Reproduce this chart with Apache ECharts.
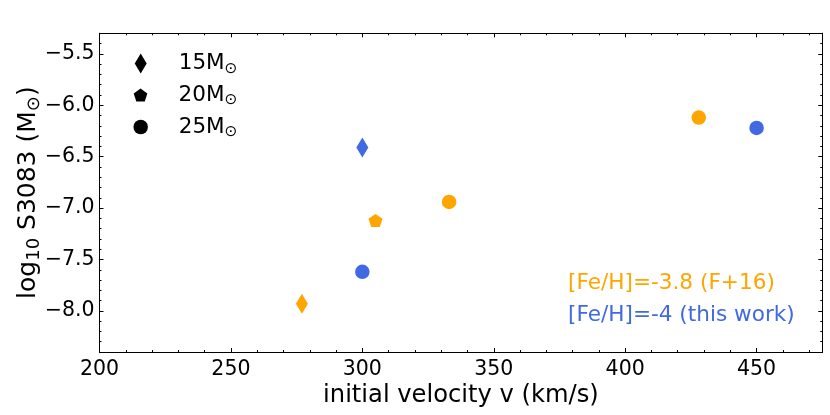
<!DOCTYPE html>
<html><head><meta charset="utf-8">
<script src="https://cdn.jsdelivr.net/npm/echarts@6/dist/echarts.min.js"></script>
<style>html,body{margin:0;padding:0;background:#fff}#c{width:830px;height:415px}</style>
</head><body><div id="c"></div>
<script>
// ---- data ----
const massLabels = ['15', '20', '25'];
const f16Velocity = [277, 305, 333, 428];
const f16Mass = ['15', '20', '25', '25'];
const f16LogS3083 = [-7.93, -7.12, -6.94, -6.12];
const thisVelocity = [300, 300, 450];
const thisMass = ['15', '25', '25'];
const thisLogS3083 = [-6.41, -7.62, -6.22];
const xTicks = [200, 250, 300, 350, 400, 450];
const yTicks = [-8.0, -7.5, -7.0, -6.5, -6.0, -5.5];
const groupLabels = ['[Fe/H]=-3.8 (F+16)', '[Fe/H]=-4 (this work)'];
const xTitle = 'initial velocity v (km/s)';

// ---- styling ----
const FONT = 'DejaVu Sans';
const ORANGE = '#FFA500';
const BLUE = '#4169E1';
const X_MIN = 200, X_MAX = 475, Y_MIN = -8.4, Y_MAX = -5.3;
const symbols = {
  '15': 'path://M0,-1 L0.6,0 L0,1 L-0.6,0 Z',
  '20': 'path://M0,-1 L0.951,-0.309 L0.588,0.809 L-0.588,0.809 L-0.951,-0.309 Z',
  '25': 'circle'
};
const symbolSizes = { '15': [12, 20], '20': [14, 13], '25': 14.5 };
const LEG_CX = 140.7;
const legendTops = { '15': 52.5, '20': 84, '25': 116 };

const xMinor = [];
for (let v = X_MIN; v <= X_MAX; v += 10) xMinor.push(v);
const yMinor = [];
for (let k = -84; k <= -53; k++) yMinor.push(k / 10);

function xAxisDef(position, ticks, len, labels, extra) {
  return Object.assign({
    type: 'value', position, min: X_MIN, max: X_MAX,
    axisLine: { show: true, onZero: false, lineStyle: { color: '#000', width: 1 } },
    axisTick: { show: true, inside: true, length: len, customValues: ticks, lineStyle: { color: '#000', width: 1 } },
    axisLabel: labels ? {
      show: true, customValues: ticks, fontFamily: FONT, fontSize: 20.5, color: '#000',
      margin: 8, lineHeight: 20, formatter: v => String(Math.round(v))
    } : { show: false },
    splitLine: { show: false }
  }, extra || {});
}
function yAxisDef(position, ticks, len, labels, extra) {
  return Object.assign({
    type: 'value', position, min: Y_MIN, max: Y_MAX,
    axisLine: { show: true, onZero: false, lineStyle: { color: '#000', width: 1 } },
    axisTick: { show: true, inside: true, length: len, customValues: ticks, lineStyle: { color: '#000', width: 1 } },
    axisLabel: labels ? {
      show: true, customValues: ticks, fontFamily: FONT, fontSize: 20.5, color: '#000', margin: 5,
      formatter: v => (v < 0 ? '\u2212' : '') + Math.abs(v).toFixed(1)
    } : { show: false },
    splitLine: { show: false }
  }, extra || {});
}

function buildSeries() {
  return massLabels.map(m => {
    const data = [];
    f16Velocity.forEach((v, i) => {
      if (f16Mass[i] === m) data.push({ value: [v, f16LogS3083[i]], itemStyle: { color: ORANGE, opacity: 1 } });
    });
    thisVelocity.forEach((v, i) => {
      if (thisMass[i] === m) data.push({ value: [v, thisLogS3083[i]], itemStyle: { color: BLUE, opacity: 1 } });
    });
    return {
      name: m, type: 'scatter', xAxisIndex: 0, yAxisIndex: 0,
      symbol: symbols[m], symbolSize: symbolSizes[m], symbolKeepAspect: false,
      itemStyle: { opacity: 1 },
      emphasis: { disabled: true },
      data, z: 5
    };
  });
}

const legendRich = {
  a: { fontFamily: FONT, fontSize: 21.5, lineHeight: 26, color: '#000' },
  s: { fontFamily: FONT, fontSize: 15.5, lineHeight: 20, verticalAlign: 'bottom', color: '#000' }
};
const legends = massLabels.map(m => {
  const sz = symbolSizes[m];
  const w = Array.isArray(sz) ? sz[0] : sz;
  const h = Array.isArray(sz) ? sz[1] : sz;
  return {
    data: [{ name: m, icon: symbols[m] }],
    left: LEG_CX - w / 2, top: legendTops[m], padding: 0,
    itemWidth: 66, itemHeight: h,
    symbolKeepAspect: true, selectedMode: false,
    itemStyle: { color: '#000', borderWidth: 0, opacity: 1 },
    formatter: name => '{a|' + name + 'M}{s|\u2299}',
    textStyle: { rich: legendRich }
  };
});

const option = {
  backgroundColor: '#fff',
  animation: false,
  grid: { left: 99.5, right: 7.7, top: 33.3, bottom: 62.7 },
  xAxis: [
    xAxisDef('bottom', xTicks, 4, true, {
      name: xTitle, nameLocation: 'middle', nameGap: 30, nameMoveOverlap: false,
      nameTextStyle: { fontFamily: FONT, fontSize: 24.2, color: '#000', lineHeight: 28 }
    }),
    xAxisDef('bottom', xMinor, 2, false),
    xAxisDef('top', xTicks, 4, false),
    xAxisDef('top', xMinor, 2, false)
  ],
  yAxis: [
    yAxisDef('left', yTicks, 4, true, {
      name: '{a|log}{s|10}{a| S3083 (M}{s|\u2299}{a|)}',
      nameLocation: 'middle', nameGap: 56, nameRotate: 90, nameMoveOverlap: false,
      nameTextStyle: {
        color: '#000',
        rich: {
          a: { fontFamily: FONT, fontSize: 25, lineHeight: 30, color: '#000' },
          s: { fontFamily: FONT, fontSize: 18, lineHeight: 22, verticalAlign: 'bottom', color: '#000' }
        }
      }
    }),
    yAxisDef('left', yMinor, 2, false),
    yAxisDef('right', yTicks, 4, false),
    yAxisDef('right', yMinor, 2, false)
  ],
  legend: legends,
  graphic: [
    { type: 'text', left: 568, top: 272, style: { text: groupLabels[0], fill: ORANGE, font: '21.6px "DejaVu Sans"' } },
    { type: 'text', left: 568, top: 304, style: { text: groupLabels[1], fill: BLUE, font: '21.6px "DejaVu Sans"' } }
  ],
  series: buildSeries()
};

const chart = echarts.init(document.getElementById('c'), null, { renderer: 'canvas' });
chart.setOption(option);
</script>
</body></html>
